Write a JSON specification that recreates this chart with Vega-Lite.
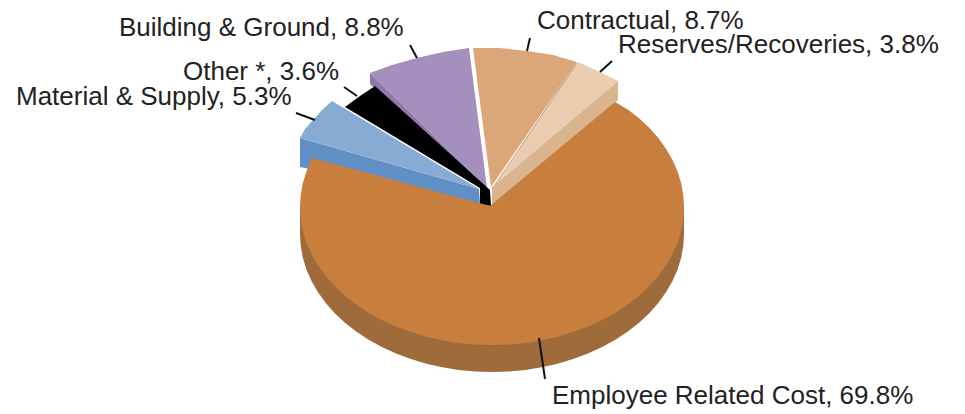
{
"$schema":"https://vega.github.io/schema/vega-lite/v6.json",
"width":965,"height":414,"padding":0,"autosize":"none",
"background":"white",
"view":{"stroke":null},
"config":{"view":{"stroke":null}},
"datasets":{
"shapes":[
{"part":"a Building side","seq":1,"x":370,"y":73},{"part":"a Building side","seq":2,"x":370,"y":84},{"part":"a Building side","seq":3,"x":484,"y":192},{"part":"a Building side","seq":4,"x":487,"y":188},
{"part":"b Building top","seq":1,"x":487,"y":188},{"part":"b Building top","seq":2,"x":370,"y":73},{"part":"b Building top","seq":3,"x":392,"y":65},{"part":"b Building top","seq":4,"x":417,"y":58},{"part":"b Building top","seq":5,"x":443,"y":52},{"part":"b Building top","seq":6,"x":469,"y":48},
{"part":"c Contractual side","seq":1,"x":577,"y":62},{"part":"c Contractual side","seq":2,"x":575,"y":68},{"part":"c Contractual side","seq":3,"x":495,"y":190},{"part":"c Contractual side","seq":4,"x":493,"y":187},
{"part":"d Contractual top","seq":1,"x":491,"y":187},{"part":"d Contractual top","seq":2,"x":473,"y":48},{"part":"d Contractual top","seq":3,"x":500,"y":48},{"part":"d Contractual top","seq":4,"x":527,"y":51},{"part":"d Contractual top","seq":5,"x":553,"y":55},{"part":"d Contractual top","seq":6,"x":577,"y":62},
{"part":"e Reserves side","seq":1,"x":618,"y":81},{"part":"e Reserves side","seq":2,"x":618,"y":100},{"part":"e Reserves side","seq":3,"x":492,"y":206},{"part":"e Reserves side","seq":4,"x":492,"y":187},
{"part":"f Reserves top","seq":1,"x":495,"y":185},{"part":"f Reserves top","seq":2,"x":578,"y":62},{"part":"f Reserves top","seq":3,"x":600,"y":72},{"part":"f Reserves top","seq":4,"x":618,"y":81},
{"part":"g Other","seq":1,"x":480,"y":188},{"part":"g Other","seq":2,"x":345,"y":107},{"part":"g Other","seq":3,"x":360,"y":96},{"part":"g Other","seq":4,"x":375,"y":86},{"part":"g Other","seq":5,"x":490,"y":190},{"part":"g Other","seq":6,"x":491,"y":206},{"part":"g Other","seq":7,"x":480,"y":204},
{"part":"h Material side","seq":1,"x":300,"y":138},{"part":"h Material side","seq":2,"x":479,"y":189},{"part":"h Material side","seq":3,"x":480,"y":204},{"part":"h Material side","seq":4,"x":300,"y":167},
{"part":"i Material top","seq":1,"x":479,"y":189},{"part":"i Material top","seq":2,"x":300,"y":138},{"part":"i Material top","seq":3,"x":305,"y":129},{"part":"i Material top","seq":4,"x":313,"y":120},{"part":"i Material top","seq":5,"x":322,"y":110},{"part":"i Material top","seq":6,"x":332,"y":101},
{"part":"j Employee side","seq":1,"x":300,"y":207},{"part":"j Employee side","seq":2,"x":300,"y":234},{"part":"j Employee side","seq":3,"x":300.7,"y":246},{"part":"j Employee side","seq":4,"x":302.9,"y":258},{"part":"j Employee side","seq":5,"x":306.5,"y":269.7},{"part":"j Employee side","seq":6,"x":311.6,"y":281.2},{"part":"j Employee side","seq":7,"x":318,"y":292.3},{"part":"j Employee side","seq":8,"x":325.7,"y":303},{"part":"j Employee side","seq":9,"x":334.7,"y":313.2},{"part":"j Employee side","seq":10,"x":344.9,"y":322.7},{"part":"j Employee side","seq":11,"x":356.2,"y":331.6},{"part":"j Employee side","seq":12,"x":368.6,"y":339.7},{"part":"j Employee side","seq":13,"x":381.9,"y":347},{"part":"j Employee side","seq":14,"x":396,"y":353.5},{"part":"j Employee side","seq":15,"x":410.9,"y":359.1},{"part":"j Employee side","seq":16,"x":426.3,"y":363.7},{"part":"j Employee side","seq":17,"x":442.3,"y":367.3},{"part":"j Employee side","seq":18,"x":458.7,"y":369.9},{"part":"j Employee side","seq":19,"x":475.3,"y":371.5},{"part":"j Employee side","seq":20,"x":492,"y":372},{"part":"j Employee side","seq":21,"x":508.7,"y":371.5},{"part":"j Employee side","seq":22,"x":525.3,"y":369.9},{"part":"j Employee side","seq":23,"x":541.7,"y":367.3},{"part":"j Employee side","seq":24,"x":557.7,"y":363.7},{"part":"j Employee side","seq":25,"x":573.1,"y":359.1},{"part":"j Employee side","seq":26,"x":588,"y":353.5},{"part":"j Employee side","seq":27,"x":602.1,"y":347},{"part":"j Employee side","seq":28,"x":615.4,"y":339.7},{"part":"j Employee side","seq":29,"x":627.8,"y":331.6},{"part":"j Employee side","seq":30,"x":639.1,"y":322.7},{"part":"j Employee side","seq":31,"x":649.3,"y":313.2},{"part":"j Employee side","seq":32,"x":658.3,"y":303},{"part":"j Employee side","seq":33,"x":666,"y":292.3},{"part":"j Employee side","seq":34,"x":672.4,"y":281.2},{"part":"j Employee side","seq":35,"x":677.5,"y":269.7},{"part":"j Employee side","seq":36,"x":681.1,"y":258},{"part":"j Employee side","seq":37,"x":683.3,"y":246},{"part":"j Employee side","seq":38,"x":684,"y":234},{"part":"j Employee side","seq":39,"x":684,"y":207},
{"part":"k Employee top","seq":1,"x":490,"y":206},{"part":"k Employee top","seq":2,"x":615,"y":102},{"part":"k Employee top","seq":3,"x":627.8,"y":109.4},{"part":"k Employee top","seq":4,"x":639.1,"y":118.3},{"part":"k Employee top","seq":5,"x":649.3,"y":127.8},{"part":"k Employee top","seq":6,"x":658.3,"y":138},{"part":"k Employee top","seq":7,"x":666,"y":148.7},{"part":"k Employee top","seq":8,"x":672.4,"y":159.8},{"part":"k Employee top","seq":9,"x":677.5,"y":171.3},{"part":"k Employee top","seq":10,"x":681.1,"y":183},{"part":"k Employee top","seq":11,"x":683.3,"y":195},{"part":"k Employee top","seq":12,"x":684,"y":207},{"part":"k Employee top","seq":13,"x":683.3,"y":219},{"part":"k Employee top","seq":14,"x":681.1,"y":231},{"part":"k Employee top","seq":15,"x":677.5,"y":242.7},{"part":"k Employee top","seq":16,"x":672.4,"y":254.2},{"part":"k Employee top","seq":17,"x":666,"y":265.3},{"part":"k Employee top","seq":18,"x":658.3,"y":276},{"part":"k Employee top","seq":19,"x":649.3,"y":286.2},{"part":"k Employee top","seq":20,"x":639.1,"y":295.7},{"part":"k Employee top","seq":21,"x":627.8,"y":304.6},{"part":"k Employee top","seq":22,"x":615.4,"y":312.7},{"part":"k Employee top","seq":23,"x":602.1,"y":320},{"part":"k Employee top","seq":24,"x":588,"y":326.5},{"part":"k Employee top","seq":25,"x":573.1,"y":332.1},{"part":"k Employee top","seq":26,"x":557.7,"y":336.7},{"part":"k Employee top","seq":27,"x":541.7,"y":340.3},{"part":"k Employee top","seq":28,"x":525.3,"y":342.9},{"part":"k Employee top","seq":29,"x":508.7,"y":344.5},{"part":"k Employee top","seq":30,"x":492,"y":345},{"part":"k Employee top","seq":31,"x":475.3,"y":344.5},{"part":"k Employee top","seq":32,"x":458.7,"y":342.9},{"part":"k Employee top","seq":33,"x":442.3,"y":340.3},{"part":"k Employee top","seq":34,"x":426.3,"y":336.7},{"part":"k Employee top","seq":35,"x":410.9,"y":332.1},{"part":"k Employee top","seq":36,"x":396,"y":326.5},{"part":"k Employee top","seq":37,"x":381.9,"y":320},{"part":"k Employee top","seq":38,"x":368.6,"y":312.7},{"part":"k Employee top","seq":39,"x":356.2,"y":304.6},{"part":"k Employee top","seq":40,"x":344.9,"y":295.7},{"part":"k Employee top","seq":41,"x":334.7,"y":286.2},{"part":"k Employee top","seq":42,"x":325.7,"y":276},{"part":"k Employee top","seq":43,"x":318,"y":265.3},{"part":"k Employee top","seq":44,"x":311.6,"y":254.2},{"part":"k Employee top","seq":45,"x":306.5,"y":242.7},{"part":"k Employee top","seq":46,"x":302.9,"y":231},{"part":"k Employee top","seq":47,"x":300.7,"y":219},{"part":"k Employee top","seq":48,"x":300,"y":207},{"part":"k Employee top","seq":49,"x":300.7,"y":195},{"part":"k Employee top","seq":50,"x":302.9,"y":183},{"part":"k Employee top","seq":51,"x":306.5,"y":171.3},{"part":"k Employee top","seq":52,"x":312,"y":158}
],
"labels":[
{"category":"Building & Ground","pct":8.8,"label":"Building & Ground, 8.8%","x":119,"y":28,"x1":410,"y1":45,"x2":417,"y2":58},
{"category":"Contractual","pct":8.7,"label":"Contractual, 8.7%","x":537,"y":21,"x1":530,"y1":38,"x2":527,"y2":51},
{"category":"Reserves/Recoveries","pct":3.8,"label":"Reserves/Recoveries, 3.8%","x":618,"y":45,"x1":612,"y1":61,"x2":600,"y2":72},
{"category":"Other *","pct":3.6,"label":"Other *, 3.6%","x":183,"y":72,"x1":344,"y1":87,"x2":357,"y2":96},
{"category":"Material & Supply","pct":5.3,"label":"Material & Supply, 5.3%","x":16,"y":97,"x1":296,"y1":113,"x2":315,"y2":120},
{"category":"Employee Related Cost","pct":69.8,"label":"Employee Related Cost, 69.8%","x":552,"y":396,"x1":539,"y1":338,"x2":545,"y2":379}
]
},
"layer":[
{"data":{"name":"shapes"},
 "mark":{"type":"line","strokeWidth":0,"clip":false},
 "encoding":{
  "x":{"field":"x","type":"quantitative","scale":{"domain":[0,965],"nice":false,"zero":false},"axis":null},
  "y":{"field":"y","type":"quantitative","scale":{"domain":[414,0],"nice":false,"zero":false},"axis":null},
  "order":{"field":"seq","type":"quantitative"},
  "fill":{"field":"part","type":"nominal","legend":null,"scale":{
   "domain":["a Building side","b Building top","c Contractual side","d Contractual top","e Reserves side","f Reserves top","g Other","h Material side","i Material top","j Employee side","k Employee top"],
   "range":["#8d78a8","#a48fbd","#b98d5f","#dba778","#d9b48f","#eacdb0","#000000","#5f8fc4","#87abd3","#a06b3b","#c87f3e"]}}
 }},
{"data":{"name":"labels"},
 "mark":{"type":"rule","color":"#111111","strokeWidth":2},
 "encoding":{
  "x":{"field":"x1","type":"quantitative"},"x2":{"field":"x2"},
  "y":{"field":"y1","type":"quantitative"},"y2":{"field":"y2"}
 }},
{"data":{"name":"labels"},
 "mark":{"type":"text","align":"left","baseline":"middle","font":"Liberation Sans","fontSize":26,"color":"#222222"},
 "encoding":{
  "x":{"field":"x","type":"quantitative"},
  "y":{"field":"y","type":"quantitative"},
  "text":{"field":"label"}
 }}
]
}
